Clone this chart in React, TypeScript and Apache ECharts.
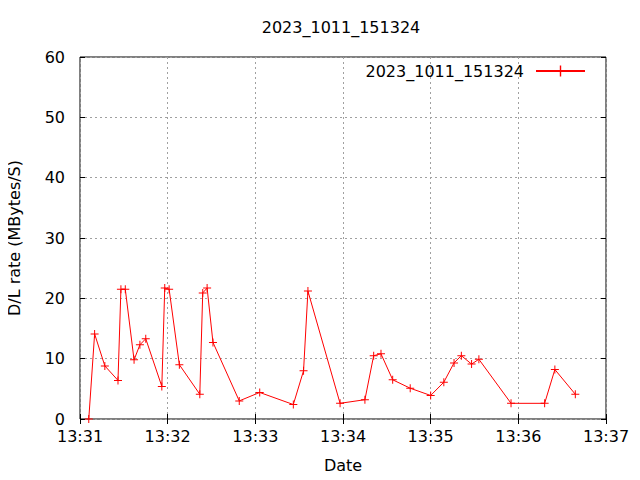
import React, { useEffect, useRef } from "react";
import * as echarts from "echarts";

const chartTitle = "2023_1011_151324";
const seriesName = "2023_1011_151324";
const xAxisName = "Date";
const yAxisName = "D/L rate (MBytes/S)";

const times = [
  "13:31:06", "13:31:10", "13:31:17", "13:31:26", "13:31:28", "13:31:31",
  "13:31:37", "13:31:41", "13:31:45", "13:31:56", "13:31:58", "13:32:01",
  "13:32:08", "13:32:22", "13:32:24", "13:32:27", "13:32:31", "13:32:49",
  "13:33:03", "13:33:26", "13:33:33", "13:33:36", "13:33:58", "13:34:15",
  "13:34:21", "13:34:26", "13:34:34", "13:34:46", "13:35:00", "13:35:09",
  "13:35:16", "13:35:21", "13:35:28", "13:35:33", "13:35:55", "13:36:18",
  "13:36:25", "13:36:39",
];

const rates = [
  0, 14.1, 8.8, 6.4, 21.5, 21.5,
  9.8, 12.3, 13.3, 5.4, 21.7, 21.5,
  9.0, 4.1, 20.9, 21.7, 12.7, 3.0,
  4.4, 2.4, 8.0, 21.2, 2.6, 3.2,
  10.5, 10.8, 6.5, 5.1, 3.9, 6.1,
  9.3, 10.5, 9.1, 9.9, 2.6, 2.6,
  8.2, 4.1,
];

const xStart = "13:31:00";
const xEnd = "13:37:00";
const xStepSeconds = 60;
const yMin = 0;
const yMax = 60;
const yStep = 10;

const toSeconds = (s: string) => {
  const [h, m, sec] = s.split(":").map(Number);
  return h * 3600 + m * 60 + sec;
};
const fmtHM = (v: number) => {
  const h = Math.floor(v / 3600);
  const m = Math.floor((v % 3600) / 60);
  return `${h}:${String(m).padStart(2, "0")}`;
};

const FONT = "DejaVu Sans";
const PLUS = "path://M0,3.5H3.5V0H4.5V3.5H8V4.5H4.5V8H3.5V4.5H0Z";

export default function App() {
  const ref = useRef<HTMLDivElement>(null);
  useEffect(() => {
    if (!ref.current) return;
    const chart = echarts.init(ref.current, null, { renderer: "svg" });
    const data = times.map((t, i) => [toSeconds(t), rates[i]]);
    const gridLine = { show: true, lineStyle: { color: "#a0a0a0", type: [2, 3] as any, width: 1 } };
    const tick = { show: true, inside: true, length: 5, lineStyle: { color: "#000", width: 1 } };
    chart.setOption({
      animation: false,
      backgroundColor: "#fff",
      textStyle: { fontFamily: FONT },
      title: {
        text: chartTitle,
        left: 336,
        textAlign: "center",
        top: 14,
        textStyle: { fontFamily: FONT, fontSize: 16, fontWeight: "normal", color: "#000" },
      },
      legend: {
        right: 54,
        top: 63,
        padding: 0,
        align: "right",
        itemWidth: 49,
        itemHeight: 14,
        data: [{ name: seriesName }],
        textStyle: { fontFamily: FONT, fontSize: 16, color: "#000", padding: [0, 7, 0, 0] },
      },
      grid: {
        left: 80,
        right: 34,
        top: 57,
        bottom: 61,
        containLabel: false,
        outerBoundsMode: "none",
        show: true,
        borderColor: "#000",
        borderWidth: 1,
        backgroundColor: "transparent",
      },
      xAxis: [
        {
          type: "value",
          min: toSeconds(xStart),
          max: toSeconds(xEnd),
          interval: xStepSeconds,
          name: xAxisName,
          nameLocation: "middle",
          nameGap: 38,
          nameTextStyle: { fontFamily: FONT, fontSize: 16, color: "#000" },
          axisLine: { show: false },
          axisTick: tick,
          splitLine: gridLine,
          axisLabel: {
            formatter: (v: number) => fmtHM(v),
            fontFamily: FONT,
            fontSize: 16,
            color: "#000",
            margin: 9,
          },
        },
        {
          type: "value",
          position: "top",
          min: toSeconds(xStart),
          max: toSeconds(xEnd),
          interval: xStepSeconds,
          axisLine: { show: false },
          axisTick: tick,
          splitLine: { show: false },
          axisLabel: { show: false },
        },
      ],
      yAxis: [
        {
          type: "value",
          min: yMin,
          max: yMax,
          interval: yStep,
          name: yAxisName,
          nameLocation: "middle",
          nameGap: 58,
          nameTextStyle: { fontFamily: FONT, fontSize: 16, color: "#000" },
          axisLine: { show: false },
          axisTick: tick,
          splitLine: gridLine,
          axisLabel: { fontFamily: FONT, fontSize: 16, color: "#000", margin: 15 },
        },
        {
          type: "value",
          position: "right",
          min: yMin,
          max: yMax,
          interval: yStep,
          axisLine: { show: false },
          axisTick: tick,
          splitLine: { show: false },
          axisLabel: { show: false },
        },
      ],
      series: [
        {
          name: seriesName,
          type: "line",
          data,
          xAxisIndex: 0,
          yAxisIndex: 0,
          symbol: PLUS,
          symbolSize: 8,
          showAllSymbol: true,
          color: "#ff0000",
          lineStyle: { color: "#ff0000", width: 1 },
          itemStyle: { color: "#ff0000" },
          emphasis: { disabled: true },
        },
      ],
    });
    return () => chart.dispose();
  }, []);
  return <div ref={ref} style={{ width: 640, height: 480, margin: -8 }} />;
}
